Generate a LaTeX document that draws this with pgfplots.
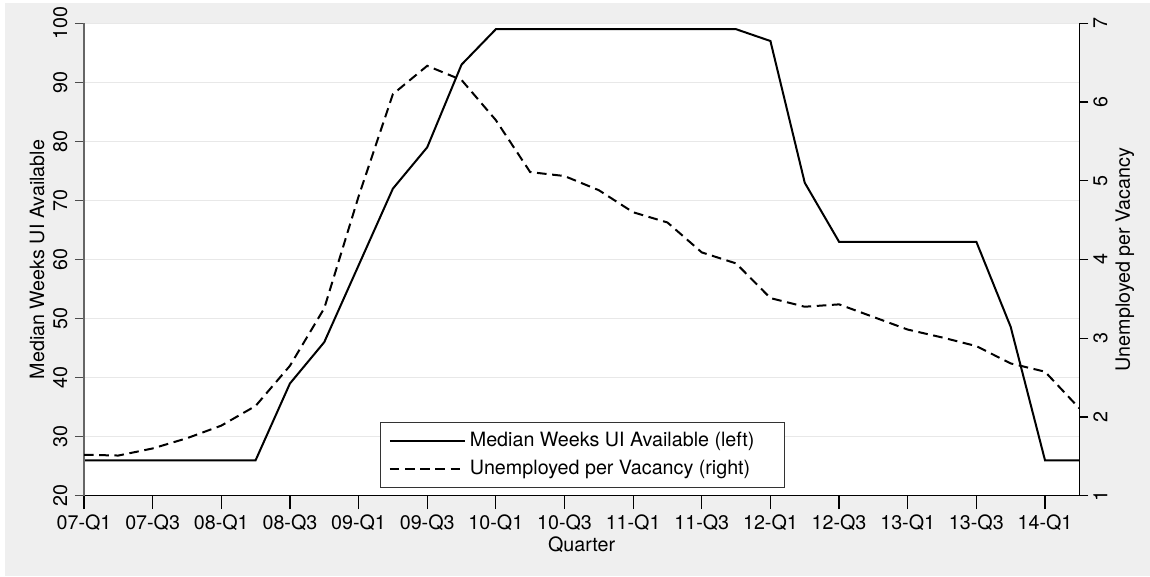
\documentclass[border=0pt]{standalone}
\usepackage{fontspec}
\setmainfont{TeX Gyre Heros}
\usepackage{pgfplots}
\pgfplotsset{compat=1.18}
\usepackage{pgfplotstable}
\definecolor{bggray}{RGB}{239,239,239}
\definecolor{gridgray}{RGB}{232,232,232}

\pgfplotstableread{
x weeks
0 26
1 26
2 26
3 26
4 26
5 26
6 39
7 46
8 59
9 72
10 79
11 93
12 99
13 99
14 99
15 99
16 99
17 99
18 99
19 99
20 97
21 73
22 63
23 63
24 63
25 63
26 63
27 48.6
28 26
29 26
}\weekstable

\pgfplotstableread{
x ratio
0 1.52
1 1.51
2 1.60
3 1.73
4 1.89
5 2.14
6 2.65
7 3.38
8 4.80
9 6.10
10 6.46
11 6.28
12 5.77
13 5.11
14 5.06
15 4.88
16 4.60
17 4.47
18 4.09
19 3.95
20 3.51
21 3.40
22 3.43
23 3.27
24 3.11
25 3.01
26 2.90
27 2.68
28 2.575
29 2.11
}\ratiotable

\newcommand{\fs}{\fontsize{9.85}{11.8}\selectfont}

\begin{document}
\begin{tikzpicture}[font=\fs]
\path[use as bounding box] (0,0) rectangle (575pt,288.5pt);
\fill[bggray] (2.5pt,0.5pt) rectangle (575pt,287pt);

% main axis: x axis, left grid, solid series
\begin{axis}[
  at={(42pt,40.65pt)}, anchor=south west,
  width=497.65pt, height=236.2pt, scale only axis,
  xmin=0, xmax=29, ymin=20, ymax=100,
  axis background/.style={fill=white},
  axis x line*=bottom, axis y line*=left,
  axis line style={-},
  x axis line style={black, line width=0.6pt},
  y axis line style={black!60, line width=0.9pt},
  tick align=outside,
  major tick length=6.75pt,
  xtick={0,2,...,28},
  xticklabels={07-Q1,07-Q3,08-Q1,08-Q3,09-Q1,09-Q3,10-Q1,10-Q3,11-Q1,11-Q3,12-Q1,12-Q3,13-Q1,13-Q3,14-Q1},
  ytick={20,30,...,100},
  minor tick num=0,
  x tick style={black, line width=0.6pt},
  y tick style={draw=none},
  ymajorgrids,
  grid style={gridgray, line width=0.8pt},
  /pgf/number format/assume math mode=true,
  xticklabel style={font=\fs, anchor=north, inner sep=0pt, yshift=-2.4pt},
  yticklabel style={font=\fs, xshift=-1.4pt, rotate=90, anchor=south, inner sep=0pt},
  xlabel={Quarter},
  xlabel style={font=\fs, at={(axis description cs:0.5,-0.0853)}, anchor=north, inner sep=0pt},
  ylabel={Median Weeks UI Available},
  ylabel style={font=\fs, at={(axis description cs:-0.0392,0.5)}, anchor=south, inner sep=0pt},
  clip=false,
]
\addplot[black, line width=1pt] table[x=x, y=weeks] {\weekstable};
\end{axis}

% left y ticks (shorter)
\begin{axis}[
  at={(42pt,40.65pt)}, anchor=south west,
  width=497.65pt, height=236.2pt, scale only axis,
  xmin=0, xmax=29, ymin=20, ymax=100,
  axis x line=none, axis y line*=left,
  axis line style={-},
  y axis line style={black!60, line width=0.9pt},
  tick align=outside,
  major tick length=4.5pt,
  ytick={20,30,...,100},
  yticklabels={},
  y tick style={black!70, line width=0.6pt},
]
\addplot[draw=none] coordinates {(0,20)};
\end{axis}

% right axis: dashed series
\begin{axis}[
  at={(42pt,40.65pt)}, anchor=south west,
  width=497.65pt, height=236.2pt, scale only axis,
  xmin=0, xmax=29, ymin=1, ymax=7,
  axis x line=none, axis y line*=right,
  axis line style={-},
  y axis line style={black, line width=0.6pt},
  tick align=outside,
  major tick length=4.5pt,
  ytick={1,2,...,7},
  y tick style={black, line width=0.6pt},
  /pgf/number format/assume math mode=true,
  yticklabel style={font=\fs, xshift=2.35pt, rotate=90, anchor=north, inner sep=0pt},
  ylabel={Unemployed per Vacancy},
  ylabel style={font=\fs, at={(axis description cs:1.0359,0.5)}, anchor=north, inner sep=0pt},
  legend style={at={(0.501,0.0157)}, anchor=south, draw=black!80, fill=white,
    font=\fs, line width=0.6pt, inner xsep=4pt, inner ysep=3pt, row sep=1.2pt,
    /tikz/every even column/.append style={column sep=9pt}},
  legend cell align=left,
  legend image code/.code={\draw[#1, line width=1pt] (0pt,0pt) -- (37.5pt,0pt);},
]
\addlegendimage{black, solid}
\addlegendentry{Median Weeks UI Available (left)\hspace*{9pt}}
\addplot[black, line width=1pt, dash pattern=on 4.8pt off 2.8pt] table[x=x, y=ratio] {\ratiotable};
\addlegendentry{Unemployed per Vacancy (right)\hspace*{9pt}}
\end{axis}
\end{tikzpicture}
\end{document}
